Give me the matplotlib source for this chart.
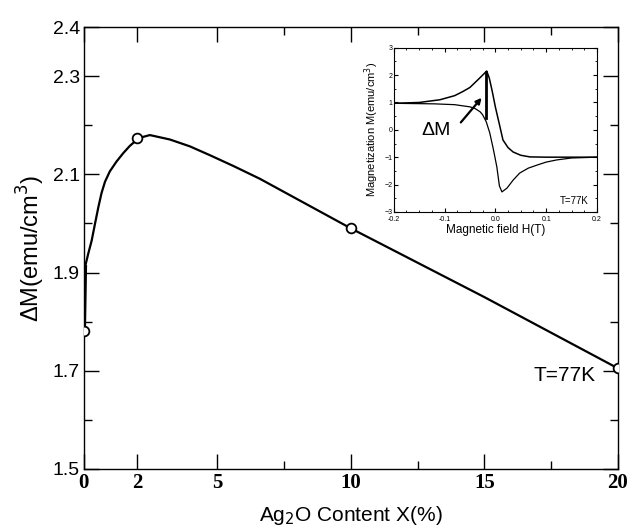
import matplotlib
matplotlib.use("Agg")
import matplotlib.pyplot as plt
from matplotlib.ticker import FixedLocator, MultipleLocator

plt.rcParams["font.family"] = ["Liberation Sans", "DejaVu Sans"]

# measured points
content = [0, 2, 10, 20]
delta_m = [1.78, 2.175, 1.99, 1.705]

# smooth guide curve
curve_x = [0.0, 0.04, 0.16, 0.29, 0.41, 0.54, 0.66, 0.79, 0.97, 1.22, 1.47, 1.72, 2.06,
           2.47, 3.22, 3.97, 4.72, 5.6, 6.59, 10.0, 15.0, 20.0]
curve_y = [1.78, 1.911, 1.938, 1.965, 1.998, 2.033, 2.062, 2.085, 2.106, 2.126, 2.143, 2.158, 2.174,
           2.18, 2.171, 2.157, 2.139, 2.117, 2.091, 1.99, 1.85, 1.705]

# inset hysteresis loop at 77 K
h_up = [-0.2, -0.15, -0.109, -0.08, -0.064, -0.05, -0.036, -0.025, -0.017, -0.012, -0.006, 0.0,
        0.008, 0.015, 0.025, 0.035, 0.05, 0.068, 0.1, 0.15, 0.2]
m_up = [0.97, 1.0, 1.10, 1.25, 1.40, 1.55, 1.80, 2.0, 2.15, 1.9, 1.4, 0.84,
        0.2, -0.37, -0.65, -0.81, -0.93, -0.99, -1.0, -1.0, -1.0]
h_lo = [0.2, 0.15, 0.121, 0.1, 0.082, 0.065, 0.048, 0.035, 0.023, 0.013, 0.008, 0.003, -0.004,
        -0.011, -0.018, -0.025, -0.03, -0.04, -0.05, -0.08, -0.12, -0.2]
m_lo = [-1.0, -1.03, -1.10, -1.18, -1.29, -1.40, -1.58, -1.84, -2.13, -2.27, -2.05, -1.36, -0.7,
        -0.11, 0.3, 0.55, 0.66, 0.78, 0.84, 0.92, 0.95, 0.97]

x_ticks = [0, 2, 5, 10, 15, 20]
y_ticks = [1.5, 1.7, 1.9, 2.1, 2.3, 2.4]

fig = plt.figure(figsize=(6.31, 5.31), dpi=100)
ax = fig.add_axes([0.133, 0.117, 0.846, 0.832])

ax.plot(curve_x, curve_y, color="black", lw=1.6, zorder=2, solid_joinstyle="round")
ax.plot(curve_x[:2], curve_y[:2], color="black", lw=3, zorder=2)
ax.plot(content, delta_m, "o", ms=7, mfc="white", mec="black", mew=1.3, zorder=3)

ax.set_xlim(0, 20)
ax.set_ylim(1.5, 2.4)
ax.xaxis.set_major_locator(FixedLocator(x_ticks))
ax.xaxis.set_minor_locator(FixedLocator([7.5, 12.5, 17.5]))
ax.yaxis.set_major_locator(FixedLocator(y_ticks))
ax.yaxis.set_minor_locator(FixedLocator([1.6, 1.8, 2.0, 2.2]))
ax.set_yticklabels([f"{v:.1f}" for v in y_ticks], fontsize=14)
ax.set_xticklabels([str(v) for v in x_ticks], fontsize=15,
                   family=["Liberation Serif", "DejaVu Serif"], fontweight="bold")
ax.tick_params(which="both", direction="in", top=True, right=True, width=1)
ax.tick_params(which="major", length=11, pad=3)
ax.tick_params(which="minor", length=6)
for s in ax.spines.values():
    s.set_linewidth(1)

ax.set_xlabel("Ag$_2$O Content X(%)", fontsize=15, labelpad=8)
ax.set_ylabel("ΔM(emu/cm$^3$)", fontsize=17, labelpad=4)
ax.text(0.843, 0.2, "T=77K", transform=ax.transAxes, fontsize=15)

# inset
ins = fig.add_axes([0.624, 0.601, 0.322, 0.309])
ins.plot(h_up, m_up, color="black", lw=1.1)
ins.plot(h_lo, m_lo, color="black", lw=0.9)
ins.plot([-0.019, -0.019], [0.45, 2.12], color="black", lw=2)
ins.text(-0.117, -0.04, "ΔM", fontsize=14, ha="center", va="center")
ins.annotate("", xy=(-0.027, 1.17), xytext=(-0.068, 0.27),
             arrowprops=dict(arrowstyle="-|>", color="black", lw=1.6,
                             shrinkA=0, shrinkB=0, mutation_scale=8))
ins.set_xlim(-0.2, 0.2)
ins.set_ylim(-3, 3)
ins.xaxis.set_major_locator(MultipleLocator(0.1))
ins.xaxis.set_minor_locator(MultipleLocator(0.025))
ins.yaxis.set_major_locator(MultipleLocator(1))
ins.yaxis.set_minor_locator(MultipleLocator(0.5))
ins.set_xticklabels([f"{v:.1f}" for v in ins.get_xticks()])
ins.tick_params(which="both", direction="in", top=True, right=True, labelsize=5, pad=1)
ins.tick_params(axis="x", pad=3)
ins.tick_params(which="major", length=3)
ins.tick_params(which="minor", length=1.5)
ins.set_xlabel("Magnetic field H(T)", fontsize=8.5, labelpad=1)
ins.set_ylabel("Magnetization M(emu/cm$^3$)", fontsize=8, labelpad=2)
ins.text(0.96, 0.05, "T=77K", transform=ins.transAxes, fontsize=7, ha="right")

fig.savefig("out.png", dpi=100)
